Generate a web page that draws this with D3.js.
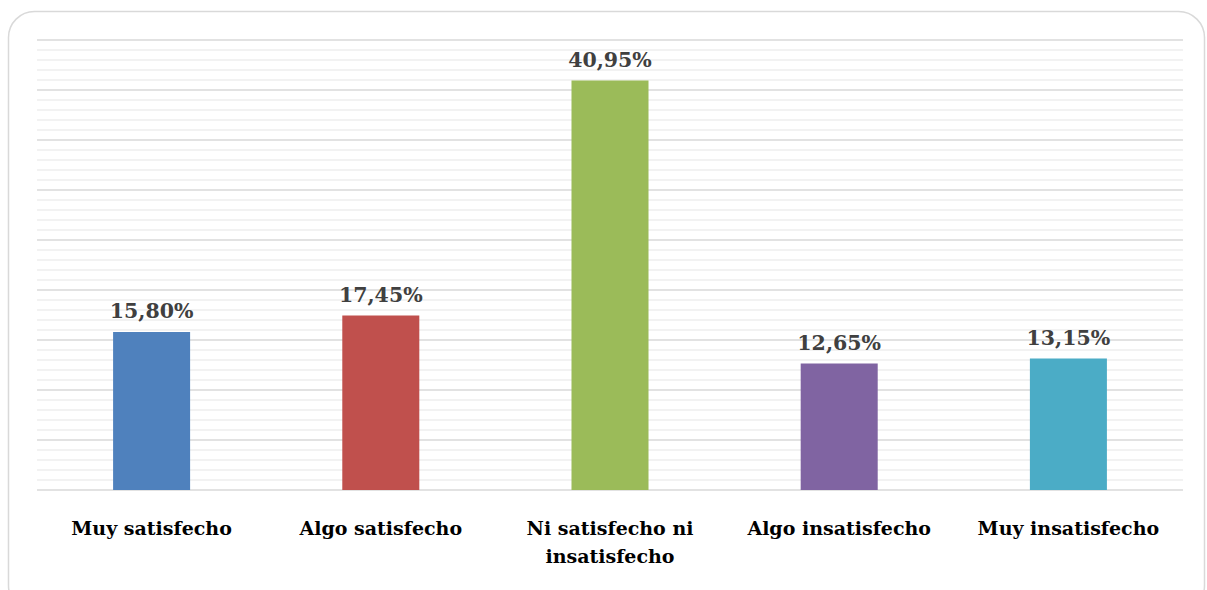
<!DOCTYPE html>
<html>
<head>
<meta charset="utf-8">
<script src="https://cdn.jsdelivr.net/npm/d3@7"></script>
<style>
  html, body { margin: 0; padding: 0; background: #fff; }
  svg { display: block; }
</style>
</head>
<body>
<svg id="chart" width="1207" height="590"></svg>
<script>
// Satisfaction survey: share of respondents per answer
const categories = [
  ["Muy satisfecho"],
  ["Algo satisfecho"],
  ["Ni satisfecho ni", "insatisfecho"],
  ["Algo insatisfecho"],
  ["Muy insatisfecho"]
];
const values = [15.80, 17.45, 40.95, 12.65, 13.15];
const valueLabels = ["15,80%", "17,45%", "40,95%", "12,65%", "13,15%"];
const colors = ["#4f81bd", "#c0504d", "#9bbb59", "#8064a2", "#4bacc6"];
const yMax = 45;

const svg = d3.select("#chart");
const plot = { left: 37, right: 1183, top: 40, bottom: 490 };
const serif = "'DejaVu Serif', serif";

// Rounded frame around the chart
svg.append("rect")
  .attr("x", 8.5).attr("y", 11.5)
  .attr("width", 1196).attr("height", 600)
  .attr("rx", 26).attr("ry", 26)
  .attr("fill", "#fff")
  .attr("stroke", "#d9d9d9")
  .attr("stroke-width", 1.5);

const x = d3.scaleBand()
  .domain(d3.range(categories.length))
  .range([plot.left, plot.right])
  .padding(0);

const y = d3.scaleLinear()
  .domain([0, yMax])
  .range([plot.bottom, plot.top]);

// Minor gridlines every 1%
svg.append("g")
  .selectAll("line")
  .data(d3.range(1, yMax + 1).filter(v => v % 5 !== 0))
  .join("line")
  .attr("x1", plot.left).attr("x2", plot.right)
  .attr("y1", d => y(d)).attr("y2", d => y(d))
  .attr("stroke", "#eeeeee")
  .attr("stroke-width", 1.5);

// Major gridlines every 5%
svg.append("g")
  .selectAll("line")
  .data(d3.range(0, yMax + 1, 5))
  .join("line")
  .attr("x1", plot.left).attr("x2", plot.right)
  .attr("y1", d => y(d)).attr("y2", d => y(d))
  .attr("stroke", "#d9d9d9")
  .attr("stroke-width", 1.5);

const barW = x.bandwidth() * 0.336;

svg.append("g")
  .selectAll("rect")
  .data(values)
  .join("rect")
  .attr("x", (d, i) => x(i) + x.bandwidth() / 2 - barW / 2)
  .attr("y", d => y(d))
  .attr("width", barW)
  .attr("height", d => y(0) - y(d))
  .attr("fill", (d, i) => colors[i]);

// Value labels above bars
svg.append("g")
  .selectAll("text")
  .data(values)
  .join("text")
  .attr("x", (d, i) => x(i) + x.bandwidth() / 2)
  .attr("y", d => y(d) - 14)
  .attr("text-anchor", "middle")
  .attr("font-family", serif)
  .attr("font-weight", "bold")
  .attr("font-size", 20.5)
  .attr("fill", "#404040")
  .text((d, i) => valueLabels[i]);

// Category labels
const cat = svg.append("g")
  .selectAll("text")
  .data(categories)
  .join("text")
  .attr("x", (d, i) => x(i) + x.bandwidth() / 2)
  .attr("y", 535)
  .attr("text-anchor", "middle")
  .attr("font-family", serif)
  .attr("font-weight", "bold")
  .attr("font-size", 19)
  .attr("fill", "#000");

cat.selectAll("tspan")
  .data(d => d)
  .join("tspan")
  .attr("x", function () { return d3.select(this.parentNode).attr("x"); })
  .attr("dy", (d, i) => i === 0 ? 0 : 28)
  .text(d => d);
</script>
</body>
</html>
